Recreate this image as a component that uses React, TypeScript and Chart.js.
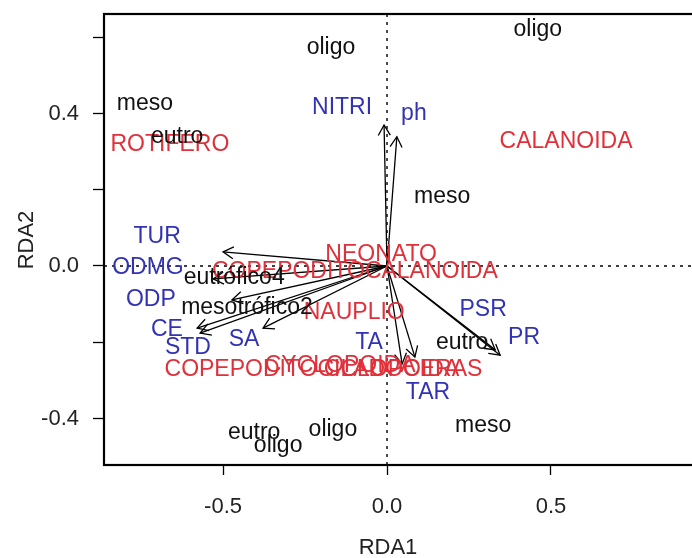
import React, { useEffect, useRef } from "react";
import { Chart, registerables } from "chart.js";
Chart.register(...registerables);

// Site scores (black labels)
const siteLabels = ["oligo", "oligo", "meso", "eutro", "meso", "eutrófico4", "mesotrófico2", "eutro", "meso", "eutro", "oligo", "oligo"];
const siteX = [-0.171, 0.46, -0.738, -0.64, 0.168, -0.466, -0.427, 0.229, 0.293, -0.405, -0.332, -0.165];
const siteY = [0.572, 0.619, 0.425, 0.339, 0.181, -0.031, -0.11, -0.202, -0.42, -0.438, -0.472, -0.428];

// Species scores (red labels)
const speciesLabels = ["ROTIFERO", "CALANOIDA", "NEONATO", "COPEPODITOCALANOIDA", "NAUPLIO", "COPEPODITOCICLOPOIDA", "CYCLOPOIDA", "CLADOCERAS"];
const speciesX = [-0.662, 0.546, -0.018, -0.098, -0.1, -0.229, -0.143, 0.049];
const speciesY = [0.318, 0.325, 0.029, -0.016, -0.123, -0.273, -0.262, -0.273];

// Environmental variables (blue labels + arrows)
const envLabels = ["NITRI", "ph", "TUR", "ODMG", "ODP", "CE", "STD", "SA", "TA", "TAR", "PSR", "PR"];
const envLabelX = [-0.137, 0.082, -0.701, -0.729, -0.72, -0.671, -0.607, -0.436, -0.055, 0.125, 0.293, 0.418];
const envLabelY = [0.415, 0.4, 0.076, -0.005, -0.087, -0.168, -0.213, -0.192, -0.2, -0.331, -0.115, -0.189];
const envArrowX = [-0.009, 0.03, -0.5, -0.53, -0.473, -0.579, -0.57, -0.378, 0.046, 0.085, 0.33, 0.345];
const envArrowY = [0.37, 0.339, 0.037, -0.034, -0.089, -0.163, -0.176, -0.163, -0.257, -0.239, -0.22, -0.234];

// Axes
const xTicks = [-0.5, 0, 0.5];
const yTicks = [-0.4, -0.2, 0, 0.2, 0.4, 0.6];
const yLabelled = [-0.4, 0, 0.4];
const xRange = [-0.863, 0.93];
const yRange = [-0.522, 0.661];
const xTitle = "RDA1";
const yTitle = "RDA2";

const FONT = "'Liberation Sans', Arial, sans-serif";
const RED = "#e0303a";
const BLUE = "#3232b4";
const BLACK = "#111111";

const fmt = (v: number) => (v === 0 ? "0.0" : v.toFixed(1));

const biplotPlugin = {
  id: "biplot",
  beforeDatasetsDraw(chart: any) {
    const { ctx, chartArea, scales } = chart;
    const x0 = scales.x.getPixelForValue(0);
    const y0 = scales.y.getPixelForValue(0);
    ctx.save();
    ctx.strokeStyle = "#000";
    ctx.lineWidth = 1.4;
    ctx.setLineDash([3, 5]);
    ctx.beginPath();
    ctx.moveTo(x0, chartArea.top);
    ctx.lineTo(x0, chartArea.bottom);
    ctx.moveTo(chartArea.left, y0);
    ctx.lineTo(chartArea.right, y0);
    ctx.stroke();
    ctx.restore();
  },
  afterDatasetsDraw(chart: any) {
    const { ctx, chartArea } = chart;
    ctx.save();
    chart.data.datasets.forEach((ds: any, i: number) => {
      if (ds.kind !== "arrow") return;
      const meta = chart.getDatasetMeta(i);
      const p0 = meta.data[0];
      const p1 = meta.data[1];
      const a = Math.atan2(p1.y - p0.y, p1.x - p0.x);
      const L = 12;
      ctx.strokeStyle = "#000";
      ctx.lineWidth = 1.3;
      ctx.beginPath();
      ctx.moveTo(p1.x - L * Math.cos(a - Math.PI / 6), p1.y - L * Math.sin(a - Math.PI / 6));
      ctx.lineTo(p1.x, p1.y);
      ctx.lineTo(p1.x - L * Math.cos(a + Math.PI / 6), p1.y - L * Math.sin(a + Math.PI / 6));
      ctx.stroke();
    });
    const order = ["species", "sites", "env"];
    order.forEach((kind) => {
      chart.data.datasets.forEach((ds: any, i: number) => {
        if (ds.kind !== kind) return;
        const meta = chart.getDatasetMeta(i);
        ctx.fillStyle = ds.textColor;
        ctx.font = `23px ${FONT}`;
        ctx.textAlign = "center";
        ctx.textBaseline = "middle";
        meta.data.forEach((pt: any, j: number) => {
          ctx.fillText(ds.labels[j], pt.x, pt.y);
        });
      });
    });
    ctx.strokeStyle = "#000";
    ctx.lineWidth = 2.2;
    ctx.setLineDash([]);
    ctx.strokeRect(chartArea.left, chartArea.top, chartArea.right - chartArea.left + 4, chartArea.bottom - chartArea.top);
    ctx.restore();
  },
  afterDraw(chart: any) {
    const { ctx } = chart;
    ctx.save();
    ctx.fillStyle = "#222";
    ctx.font = `22px ${FONT}`;
    ctx.textAlign = "center";
    ctx.textBaseline = "middle";
    ctx.fillText(xTitle, 388, 548);
    ctx.translate(27, 240);
    ctx.rotate(-Math.PI / 2);
    ctx.fillText(yTitle, 0, 0);
    ctx.restore();
  },
};

export default function App() {
  const ref = useRef<HTMLCanvasElement | null>(null);
  useEffect(() => {
    if (!ref.current) return;
    const datasets: any[] = [];
    envArrowX.forEach((tx, i) => {
      datasets.push({
        kind: "arrow",
        data: [{ x: 0, y: 0 }, { x: tx, y: envArrowY[i] }],
        showLine: true,
        borderColor: "#000",
        borderWidth: 1.3,
        pointRadius: 0,
        pointHoverRadius: 0,
        fill: false,
      });
    });
    datasets.push({
      kind: "species",
      labels: speciesLabels,
      textColor: RED,
      data: speciesX.map((x, i) => ({ x, y: speciesY[i] })),
      pointRadius: 0,
      pointHoverRadius: 0,
    });
    datasets.push({
      kind: "sites",
      labels: siteLabels,
      textColor: BLACK,
      data: siteX.map((x, i) => ({ x, y: siteY[i] })),
      pointRadius: 0,
      pointHoverRadius: 0,
    });
    datasets.push({
      kind: "env",
      labels: envLabels,
      textColor: BLUE,
      data: envLabelX.map((x, i) => ({ x, y: envLabelY[i] })),
      pointRadius: 0,
      pointHoverRadius: 0,
    });

    const chart = new Chart(ref.current, {
      type: "scatter",
      data: { datasets },
      plugins: [biplotPlugin],
      options: {
        animation: false,
        responsive: false,
        devicePixelRatio: 1,
        events: [],
        layout: { padding: { top: 14, right: 0, left: 0, bottom: 0 } },
        plugins: { legend: { display: false }, tooltip: { enabled: false } },
        scales: {
          x: {
            type: "linear",
            min: xRange[0],
            max: xRange[1],
            afterBuildTicks: (axis: any) => {
              axis.ticks = xTicks.map((v) => ({ value: v }));
            },
            afterFit: (axis: any) => {
              axis.height = 93;
              axis.paddingLeft = 0;
              axis.paddingRight = 0;
            },
            border: { display: false },
            grid: { drawOnChartArea: false, drawTicks: true, tickLength: 10, tickColor: "#000", tickWidth: 1.3 },
            ticks: {
              autoSkip: false,
              maxRotation: 0,
              padding: 19,
              color: "#222",
              font: { family: FONT, size: 22 },
              callback: (v: any) => fmt(Number(v)),
            },
          },
          y: {
            type: "linear",
            min: yRange[0],
            max: yRange[1],
            afterBuildTicks: (axis: any) => {
              axis.ticks = yTicks.map((v) => ({ value: v }));
            },
            afterFit: (axis: any) => {
              axis.width = 104;
              axis.paddingTop = 0;
              axis.paddingBottom = 0;
            },
            border: { display: false },
            grid: { drawOnChartArea: false, drawTicks: true, tickLength: 11, tickColor: "#000", tickWidth: 1.3 },
            ticks: {
              autoSkip: false,
              padding: 14,
              color: "#222",
              font: { family: FONT, size: 22 },
              callback: (v: any) => {
                const n = Number(v);
                return yLabelled.some((t) => Math.abs(t - n) < 1e-9) ? fmt(n) : "";
              },
            },
          },
        },
      } as any,
    });
    return () => chart.destroy();
  }, []);
  return (
    <div style={{ position: "absolute", left: 0, top: 0, width: 692, height: 558 }}>
      <canvas ref={ref} width={692} height={558} style={{ display: "block", width: 692, height: 558 }} />
    </div>
  );
}
